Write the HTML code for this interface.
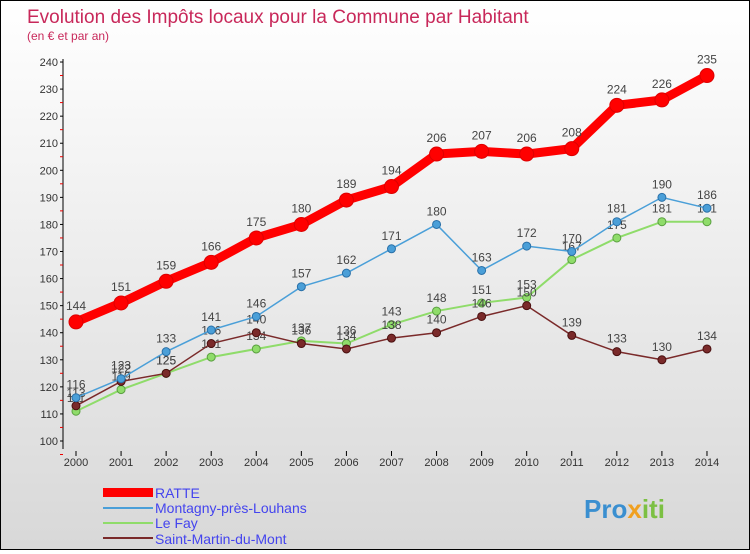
<!DOCTYPE html>
<html><head><meta charset="utf-8"><style>
body{margin:0;width:750px;height:550px;overflow:hidden;font-family:"Liberation Sans",sans-serif}
#wrap{position:relative;width:748px;height:548px;border:1px solid #000;background:linear-gradient(#fff,#d8d8d8)}
</style></head><body>
<div id="wrap">
<svg id="chart" width="748" height="548">
<text x="26" y="22" font-size="19" fill="#c8285a">Evolution des Impôts locaux pour la Commune par Habitant</text>
<text x="26" y="39" font-size="12" fill="#c8285a">(en € et par an)</text>
<g id="axes"></g><g id="series"></g>
<g>
<rect x="102" y="487" width="50" height="9" fill="#f00"/>
<text x="154" y="497" font-size="14" fill="#4444ee">RATTE</text>
<rect x="102" y="506" width="50" height="2" fill="#4a9fd8"/>
<text x="154" y="512" font-size="14" fill="#4444ee">Montagny-près-Louhans</text>
<rect x="102" y="521" width="50" height="2" fill="#8fdc6a"/>
<text x="154" y="527" font-size="14" fill="#4444ee">Le Fay</text>
<rect x="102" y="536" width="50" height="2" fill="#7a2a2a"/>
<text x="154" y="543" font-size="14" fill="#4444ee">Saint-Martin-du-Mont</text>
</g>
<text x="583" y="517" font-size="26" font-weight="bold" fill="#3a8fd0">Pro<tspan fill="#f0a020">x</tspan><tspan fill="#7cc043">iti</tspan></text>
</svg></div>
<script>
const years=[2000,2001,2002,2003,2004,2005,2006,2007,2008,2009,2010,2011,2012,2013,2014];
const ratte=[144,151,159,166,175,180,189,194,206,207,206,208,224,226,235];
const montagny=[116,123,133,141,146,157,162,171,180,163,172,170,181,190,186];
const leFay=[111,119,125,131,134,137,136,143,148,151,153,167,175,181,181];
const saintMartin=[113,122,125,136,140,136,134,138,140,146,150,139,133,130,134];
const yTicks=[100,110,120,130,140,150,160,170,180,190,200,210,220,230,240];
const NS="http://www.w3.org/2000/svg";
function xS(i){return 75+i*45.07;}
function yS(v){return 440-(v-100)*2.707;}
function mk(t,a,p){const e=document.createElementNS(NS,t);for(const k in a)e.setAttribute(k,a[k]);p.appendChild(e);return e;}
const ax=document.getElementById('axes');
let l=mk('line',{x1:62,y1:58,x2:62,y2:448,stroke:'#000'},ax);


yTicks.forEach(v=>{const y=yS(v);
 const t=mk('text',{x:57,y:y+4,'font-size':11,fill:'#333','text-anchor':'end'},ax);t.textContent=v;
 
 
 mk('line',{x1:59,y1:y,x2:62,y2:y,stroke:'#000'},ax);
 mk('line',{x1:59,y1:y+13.5,x2:62,y2:y+13.5,stroke:'#e00'},ax);
});
years.forEach((yr,i)=>{const x=xS(i);
 mk('line',{x1:x,y1:450,x2:x,y2:455,stroke:'#000'},ax);
 const t=mk('text',{x:x,y:465,'font-size':11,fill:'#333','text-anchor':'middle'},ax);t.textContent=yr;
 
 
});
const sg=document.getElementById('series');
function series(vals,color,w,r,name,dark){
 const g=mk('g',{},sg);
 
 
 const pl=mk('polyline',{points:vals.map((v,i)=>xS(i)+','+yS(v)).join(' '),fill:'none',stroke:color,'stroke-width':w},g);
 
 
 vals.forEach((v,i)=>{
  const c=mk('circle',{cx:xS(i),cy:yS(v),r:r,fill:color,stroke:dark,'stroke-width':1},g);
  
  
  const t=mk('text',{x:xS(i),y:yS(v)-r-5,'font-size':12,fill:'#444','text-anchor':'middle'},g);t.textContent=v;
  
  
 });
}
series(leFay,'#8fdc6a',2,4,'le-fay-series','#5aa040');
series(saintMartin,'#7a2a2a',1.5,4,'saint-martin-series','#4a1010');
series(montagny,'#4a9fd8',1.5,4,'montagny-series','#2a70a8');
series(ratte,'#f00',9,7,'ratte-series','#d00');
</script>
</body></html>
